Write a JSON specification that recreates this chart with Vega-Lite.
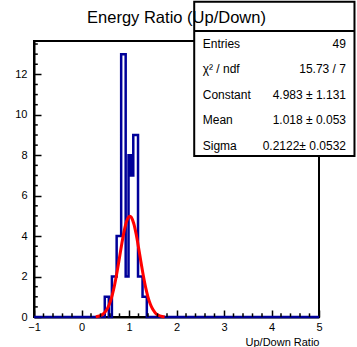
{
  "$schema": "https://vega.github.io/schema/vega-lite/v6.json",
  "width": 285,
  "height": 276,
  "autosize": {"type": "none"},
  "padding": {"left": 34, "top": 41, "right": 38, "bottom": 30},
  "background": "white",
  "config": {
    "view": {"stroke": "black", "strokeWidth": 2},
    "font": "Liberation Sans",
    "axis": {"grid": false, "domainColor": "black", "domainWidth": 2, "tickColor": "black", "tickWidth": 1.5, "labelColor": "black", "labelFontSize": 11, "labelFont": "Liberation Sans", "labelOverlap": false, "labelFlush": false, "titleColor": "black", "titleFont": "Liberation Sans", "titleFontWeight": "normal", "titleFontSize": 11}
  },
  "title": {"text": "Energy Ratio (Up/Down)", "fontSize": 16.5, "fontWeight": "normal", "font": "Liberation Sans", "color": "black", "anchor": "middle", "frame": "group", "baseline": "alphabetic", "offset": 18.5, "dy": 57.7},
  "datasets": {
    "hist": [
      {"x": -1, "n": 0},
      {"x": 0.49, "n": 1},
      {"x": 0.575, "n": 0},
      {"x": 0.64, "n": 2},
      {"x": 0.74, "n": 4},
      {"x": 0.835, "n": 13},
      {"x": 0.93, "n": 2},
      {"x": 0.99, "n": 8},
      {"x": 1.04, "n": 7},
      {"x": 1.09, "n": 9},
      {"x": 1.19, "n": 2},
      {"x": 1.285, "n": 1},
      {"x": 1.375, "n": 0},
      {"x": 5, "n": 0}
    ],
    "fit": [
      {"x": 0.30, "f": 0.016}, {"x": 0.35, "f": 0.035}, {"x": 0.40, "f": 0.072}, {"x": 0.45, "f": 0.139},
      {"x": 0.50, "f": 0.253}, {"x": 0.55, "f": 0.438}, {"x": 0.60, "f": 0.716}, {"x": 0.65, "f": 1.108},
      {"x": 0.70, "f": 1.621}, {"x": 0.75, "f": 2.245}, {"x": 0.80, "f": 2.940}, {"x": 0.85, "f": 3.643},
      {"x": 0.90, "f": 4.269}, {"x": 0.95, "f": 4.734}, {"x": 1.00, "f": 4.965}, {"x": 1.018, "f": 4.983},
      {"x": 1.05, "f": 4.927}, {"x": 1.10, "f": 4.625}, {"x": 1.15, "f": 4.107}, {"x": 1.20, "f": 3.449},
      {"x": 1.25, "f": 2.741}, {"x": 1.30, "f": 2.061}, {"x": 1.35, "f": 1.466}, {"x": 1.40, "f": 0.986},
      {"x": 1.45, "f": 0.628}, {"x": 1.50, "f": 0.378}, {"x": 1.55, "f": 0.215}, {"x": 1.60, "f": 0.116},
      {"x": 1.65, "f": 0.059}, {"x": 1.70, "f": 0.029}, {"x": 1.75, "f": 0.013}
    ],
    "xminor": [
      {"t": -0.8}, {"t": -0.6}, {"t": -0.4}, {"t": -0.2},
      {"t": 0.2}, {"t": 0.4}, {"t": 0.6}, {"t": 0.8},
      {"t": 1.2}, {"t": 1.4}, {"t": 1.6}, {"t": 1.8},
      {"t": 2.2}, {"t": 2.4}, {"t": 2.6}, {"t": 2.8},
      {"t": 3.2}, {"t": 3.4}, {"t": 3.6}, {"t": 3.8},
      {"t": 4.2}, {"t": 4.4}, {"t": 4.6}, {"t": 4.8}
    ],
    "yminor": [
      {"t": 0.5}, {"t": 1}, {"t": 1.5}, {"t": 2.5}, {"t": 3}, {"t": 3.5},
      {"t": 4.5}, {"t": 5}, {"t": 5.5}, {"t": 6.5}, {"t": 7}, {"t": 7.5},
      {"t": 8.5}, {"t": 9}, {"t": 9.5}, {"t": 10.5}, {"t": 11}, {"t": 11.5},
      {"t": 12.5}, {"t": 13}, {"t": 13.5}
    ],
    "stats": [
      {"stat": "Entries", "val": "49"},
      {"stat": "χ² / ndf", "val": "15.73 / 7"},
      {"stat": "Constant", "val": "4.983 ± 1.131"},
      {"stat": "Mean", "val": "1.018 ± 0.053"},
      {"stat": "Sigma", "val": "0.2122± 0.0532"}
    ]
  },
  "layer": [
    {
      "layer": [
        {
          "data": {"name": "hist"},
          "mark": {"type": "line", "interpolate": "step-after", "color": "#000099", "strokeWidth": 2.5},
          "encoding": {
            "x": {"field": "x", "type": "quantitative", "scale": {"domain": [-1, 5], "nice": false, "zero": false},
              "axis": {"values": [-1, 0, 1, 2, 3, 4, 5], "tickSize": -7, "format": "d",
                "labelPadding": 11, "title": "Up/Down Ratio", "titleAnchor": "end", "titlePadding": 4}},
            "y": {"field": "n", "type": "quantitative", "scale": {"domain": [0, 13.65], "nice": false},
              "axis": {"values": [0, 2, 4, 6, 8, 10, 12], "tickSize": -7, "format": "d",
                "labelPadding": 14, "title": null}}
          }
        },
        {
          "data": {"name": "fit"},
          "mark": {"type": "line", "interpolate": "monotone", "color": "#ff0000", "strokeWidth": 3},
          "encoding": {
            "x": {"field": "x", "type": "quantitative"},
            "y": {"field": "f", "type": "quantitative"}
          }
        },
        {
          "data": {"name": "xminor"},
          "mark": {"type": "rule", "color": "black", "strokeWidth": 1.5},
          "encoding": {
            "x": {"field": "t", "type": "quantitative"},
            "y": {"datum": 0, "type": "quantitative"},
            "y2": {"datum": 0.18}
          }
        },
        {
          "data": {"name": "yminor"},
          "mark": {"type": "rule", "color": "black", "strokeWidth": 1.5},
          "encoding": {
            "y": {"field": "t", "type": "quantitative"},
            "x": {"datum": -1, "type": "quantitative"},
            "x2": {"datum": -0.92}
          }
        },
        {
          "data": {"values": [{}]},
          "mark": {"type": "rect", "fill": "white", "stroke": "black", "strokeWidth": 2},
          "encoding": {
            "x": {"datum": 2.373, "type": "quantitative"},
            "x2": {"datum": 5.747},
            "y": {"datum": 15.59, "type": "quantitative"},
            "y2": {"datum": 7.96}
          }
        },
        {
          "data": {"values": [{}]},
          "mark": {"type": "rule", "color": "black", "strokeWidth": 2},
          "encoding": {
            "x": {"datum": 2.373, "type": "quantitative"},
            "x2": {"datum": 5.747},
            "y": {"datum": 14.145, "type": "quantitative"}
          }
        }
      ]
    },
    {
      "data": {"name": "stats"},
      "mark": {"type": "text", "align": "left", "baseline": "middle", "fontSize": 12, "font": "Liberation Sans", "color": "black"},
      "encoding": {
        "x": {"datum": 2.552, "type": "quantitative"},
        "y": {"field": "stat", "type": "ordinal", "sort": null, "scale": {"type": "point", "range": [2.5, 105], "padding": 0}, "axis": null},
        "text": {"field": "stat"}
      }
    },
    {
      "data": {"name": "stats"},
      "mark": {"type": "text", "align": "right", "baseline": "middle", "fontSize": 12, "font": "Liberation Sans", "color": "black"},
      "encoding": {
        "x": {"datum": 5.568, "type": "quantitative"},
        "y": {"field": "stat", "type": "ordinal", "sort": null, "scale": {"type": "point", "range": [2.5, 105], "padding": 0}, "axis": null},
        "text": {"field": "val"}
      }
    }
  ],
  "resolve": {"scale": {"y": "independent"}}
}
